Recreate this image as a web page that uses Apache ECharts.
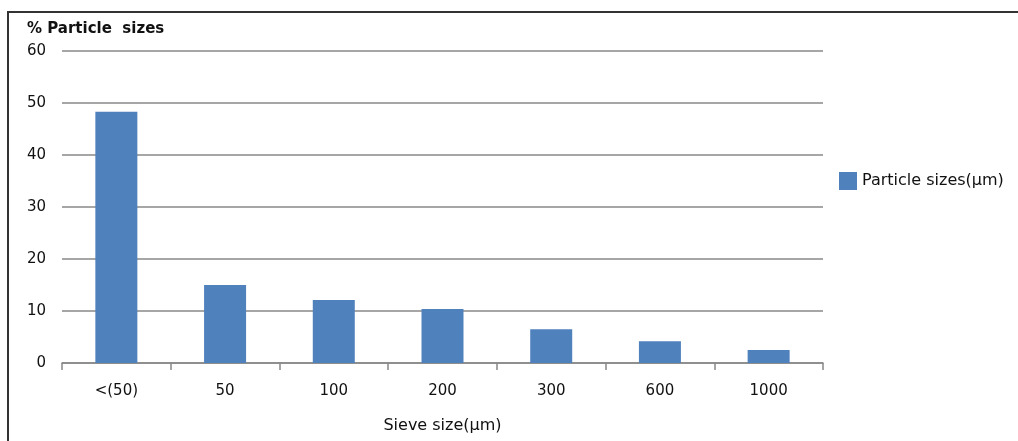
<!DOCTYPE html>
<html><head><meta charset="utf-8">
<script src="https://cdn.jsdelivr.net/npm/echarts@6/dist/echarts.min.js"></script>
<style>html,body{margin:0;padding:0;background:#fff}#c{width:1018px;height:441px}</style>
</head><body><div id="c"></div>
<script>
const categories = ['<(50)', '50', '100', '200', '300', '600', '1000'];
const percentValues = [48.3, 15.0, 12.1, 10.4, 6.5, 4.2, 2.5];
const yTicks = [0, 10, 20, 30, 40, 50, 60];

const chart = echarts.init(document.getElementById('c'));
const font = '"DejaVu Sans", Verdana, sans-serif';
chart.setOption({
  animation: false,
  textStyle: { fontFamily: font },
  graphic: [
    { type: 'rect', shape: { x: 8, y: 12, width: 1020, height: 440 }, style: { fill: 'none', stroke: '#333', lineWidth: 2 } },
    { type: 'text', left: 27, top: 22, style: { text: '% Particle  sizes', font: 'bold 15px ' + font, fill: '#111' } }
  ],
  grid: { left: 62, right: 195, top: 51, bottom: 78, containLabel: false, outerBoundsMode: 'none' },
  legend: {
    left: 834, top: 167, itemWidth: 18, itemHeight: 18, itemGap: 6,
    icon: 'rect',
    textStyle: { fontSize: 16, color: '#111', fontFamily: font },
    data: ['Particle sizes(µm)']
  },
  xAxis: {
    type: 'category', data: categories,
    name: 'Sieve size(µm)', nameLocation: 'middle', nameGap: 55,
    nameTextStyle: { fontSize: 16, color: '#111' },
    axisLine: { lineStyle: { color: '#888', width: 1.5 } },
    axisTick: { show: true, alignWithLabel: false, length: 7, lineStyle: { color: '#888', width: 1.5 } },
    axisLabel: { fontSize: 15, color: '#111', margin: 21 }
  },
  yAxis: {
    type: 'value', min: 0, max: 60, interval: 10,
    axisLine: { show: false }, axisTick: { show: false },
    axisLabel: { fontSize: 15, color: '#111', margin: 16,
      formatter: v => yTicks.includes(v) ? String(v) : '' },
    splitLine: { lineStyle: { color: '#888', width: 1.5 } }
  },
  series: [{
    name: 'Particle sizes(µm)', type: 'bar', data: percentValues,
    barWidth: 42, itemStyle: { color: '#4F81BD' }
  }]
});
</script></body></html>
